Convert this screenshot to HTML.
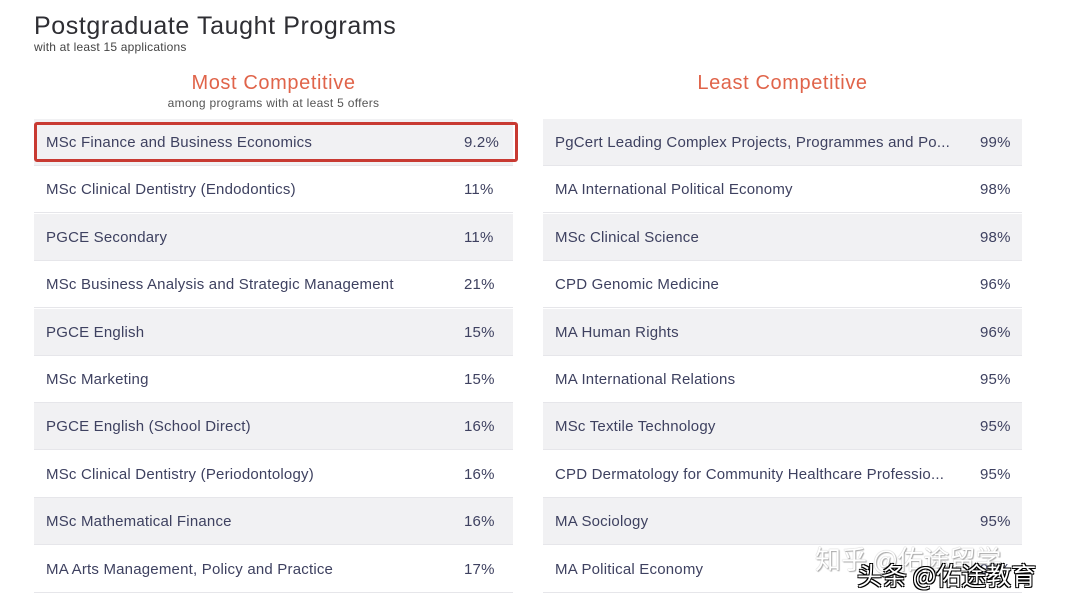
<!DOCTYPE html>
<html><head><meta charset="utf-8"><style>
body{margin:0;width:1071px;height:604px;background:#fff;position:relative;overflow:hidden;font-family:"Liberation Sans",sans-serif;color:#3e4160}
.t{position:absolute;white-space:nowrap}
.row{position:absolute;height:47px;border-bottom:1px solid #e6e6ea;box-sizing:border-box}
.row span{position:absolute;top:15px;font-size:15px;letter-spacing:0.2px;color:#3e4160}
.g{background:#f1f1f3}
</style></head><body>
<div class="t" style="left:34px;top:12px;font-size:25px;letter-spacing:0.6px;color:#2e2e33">Postgraduate Taught Programs</div>
<div class="t" style="left:34px;top:40px;font-size:12px;letter-spacing:0.2px;color:#444">with at least 15 applications</div>
<div class="t" style="left:34px;width:479px;text-align:center;top:72px;font-size:20px;letter-spacing:0.6px;color:#e0644a">Most Competitive</div>
<div class="t" style="left:34px;width:479px;text-align:center;top:96px;font-size:12px;letter-spacing:0.3px;color:#555">among programs with at least 5 offers</div>
<div class="t" style="left:543px;width:479px;text-align:center;top:72px;font-size:20px;letter-spacing:0.6px;color:#e0644a">Least Competitive</div>
<div id="L"></div><div id="R"></div>
<div style="position:absolute;left:34px;top:122px;width:484px;height:40px;border:3px solid #c83a32;border-radius:3px;box-sizing:border-box"></div>
<div class="t" style="left:815px;top:540px;font-size:26px;color:#fff;text-shadow:0 0 1px #999,1px 1px 1px #aaa;font-family:'Noto Sans CJK SC',sans-serif">知乎 @佑途留学</div>
<div class="t" style="left:857px;top:557px;font-size:25px;color:#fff;text-shadow:1px 1px 0 #000,-1px -1px 0 #000,1px -1px 0 #000,-1px 1px 0 #000;font-family:'Noto Sans CJK SC',sans-serif">头条 @佑途教育</div>
<script>
var L=[["MSc Finance and Business Economics","9.2%"],["MSc Clinical Dentistry (Endodontics)","11%"],["PGCE Secondary","11%"],["MSc Business Analysis and Strategic Management","21%"],["PGCE English","15%"],["MSc Marketing","15%"],["PGCE English (School Direct)","16%"],["MSc Clinical Dentistry (Periodontology)","16%"],["MSc Mathematical Finance","16%"],["MA Arts Management, Policy and Practice","17%"]];
var R=[["PgCert Leading Complex Projects, Programmes and Po...","99%"],["MA International Political Economy","98%"],["MSc Clinical Science","98%"],["CPD Genomic Medicine","96%"],["MA Human Rights","96%"],["MA International Relations","95%"],["MSc Textile Technology","95%"],["CPD Dermatology for Community Healthcare Professio...","95%"],["MA Sociology","95%"],["MA Political Economy","95%"]];
function b(d,x,px){var h="";d.forEach(function(r,i){h+='<div class="row'+(i%2==0?' g':'')+'" style="left:'+x+'px;top:'+(119+i*47.4)+'px;width:479px"><span style="left:12px">'+r[0]+'</span><span style="left:'+px+'px">'+r[1]+'</span></div>'});return h}
document.getElementById("L").innerHTML=b(L,34,430);document.getElementById("R").innerHTML=b(R,543,437);
</script>
</body></html>
